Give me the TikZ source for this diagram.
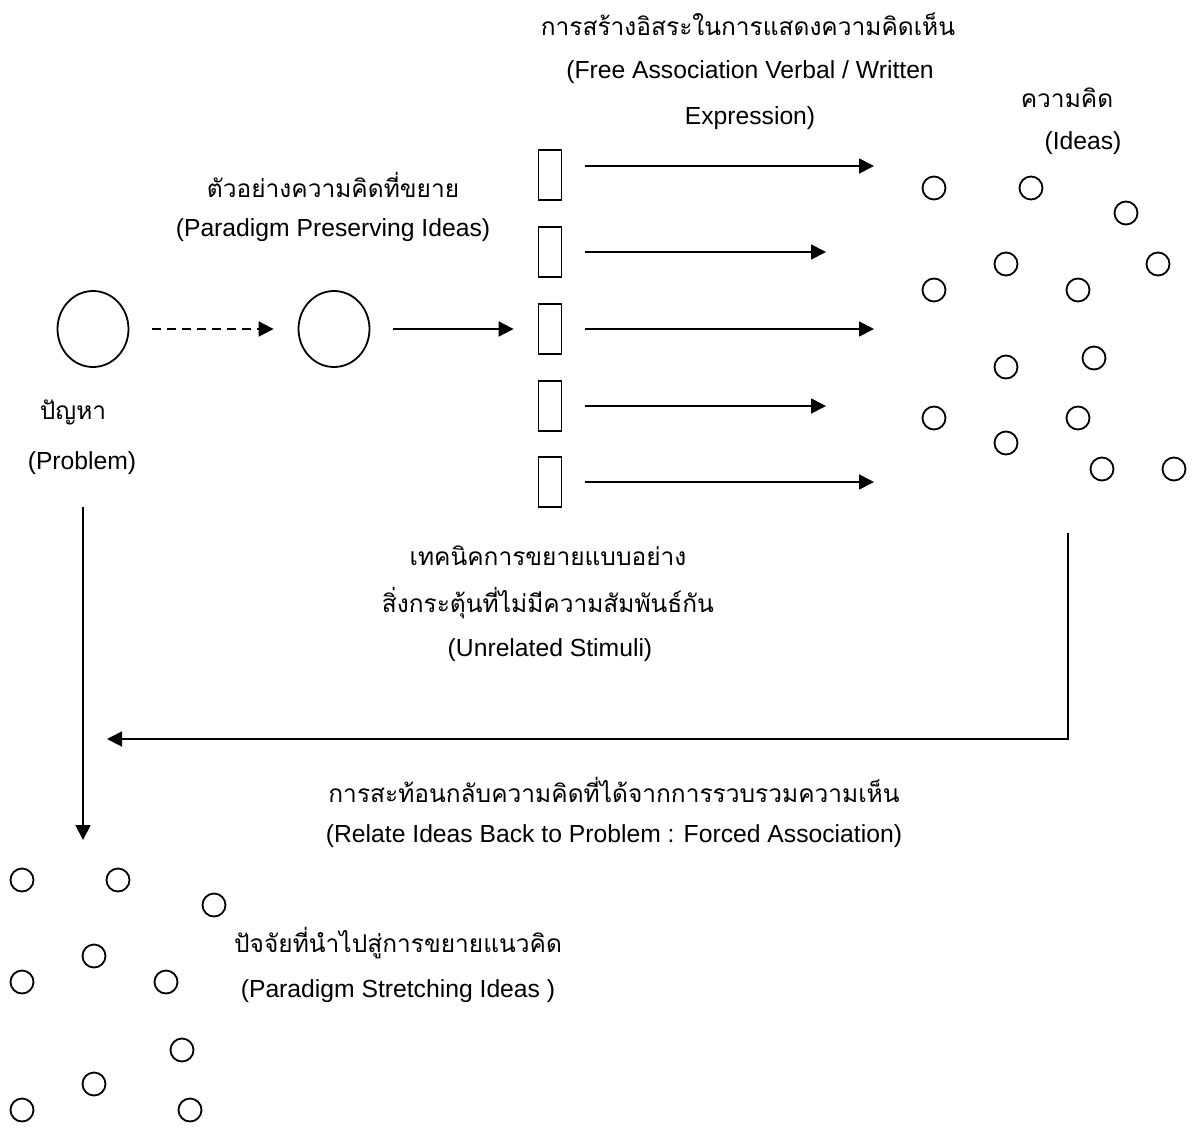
\documentclass[tikz,border=0pt]{standalone}
\usepackage{fontspec}
\setmainfont{Liberation Sans}
\newfontfamily\thaifont[Script=Thai]{Loma}
\usetikzlibrary{arrows.meta,shapes.geometric}
\begin{document}
\begin{tikzpicture}[x=1pt,y=-1pt,
  lat/.style={font=\fontsize{24.7}{29}\selectfont,inner sep=0},
  th/.style={font=\thaifont\fontsize{24.5}{29}\selectfont,inner sep=0},
  big/.style={draw,ellipse,line width=1.8pt,minimum width=71pt,minimum height=76pt,inner sep=0},
  stim/.style={draw,rectangle,line width=1.8pt,minimum width=23pt,minimum height=50pt,inner sep=0},
  idea/.style={draw,circle,line width=1.8pt,minimum size=23pt,inner sep=0},
  link/.style={line width=1.8pt,-{Triangle[length=15pt,width=15pt]}},
  gap/.style={shorten <=23pt,shorten >=24pt},
]
\useasboundingbox (0,0) rectangle (1192,1128);

% problem and paradigm-preserving ideas
\node[big] (prob) at (93,329) {};
\node[big] (pres) at (334,329) {};
\draw[link,gap,dash pattern=on 9pt off 6pt] (prob) -- (pres);

% unrelated stimuli
\node[stim] (s1) at (550,175) {};
\node[stim] (s2) at (550,252) {};
\node[stim] (s3) at (550,329) {};
\node[stim] (s4) at (550,406) {};
\node[stim] (s5) at (550,482) {};
\draw[link,gap] (pres) -- (s3);

\coordinate (e1) at (874,166);
\coordinate (e2) at (826,252);
\coordinate (e3) at (874,329);
\coordinate (e4) at (826,406);
\coordinate (e5) at (874,482);
\draw[link,shorten <=23pt] (s1.east |- e1) -- (e1);
\draw[link,shorten <=23pt] (s2) -- (e2);
\draw[link,shorten <=23pt] (s3) -- (e3);
\draw[link,shorten <=23pt] (s4) -- (e4);
\draw[link,shorten <=23pt] (s5) -- (e5);

% ideas
\foreach \p [count=\i] in {(934,188),(1031,188),(1126,213),(1006,264),(1158,264),
  (934,290),(1078,290),(1094,358),(1006,367),(934,418),(1078,418),(1006,443),
  (1102,469),(1174,469)}
  \node[idea] (i\i) at \p {};

% feedback to the problem
\coordinate (fb0) at (1068,533);
\coordinate (fb1) at (107,739);
\draw[link] (fb0) |- (fb1);
\coordinate (dn0) at (83,507);
\coordinate (dn1) at (83,840);
\draw[link] (dn0) -- (dn1);

% paradigm-stretching ideas
\foreach \p [count=\i] in {(22,880),(118,880),(214,905),(94,956),(22,982),
  (166,982),(182,1050),(94,1084),(22,1110),(190,1110)}
  \node[idea] (o\i) at \p {};

% labels
\node[th]  (t1) at (748,24)  {การสร้างอิสระในการแสดงความคิดเห็น};
\node[lat] (t2) at (750,72)  {(Free Association Verbal / Written};
\node[lat] (t3) at (750,118) {Expression)};
\node[th]  (t4) at (1067,98) {ความคิด};
\node[lat] (t5) at (1083,143) {(Ideas)};
\node[th]  (t6) at (333,185) {ตัวอย่างความคิดที่ขยาย};
\node[lat] (t7) at (333,230) {(Paradigm Preserving Ideas)};
\node[th]  (t8) at (73,412)  {ปัญหา};
\node[lat] (t9) at (82,463)  {(Problem)};
\node[th]  (t10) at (548,556) {เทคนิคการขยายแบบอย่าง};
\node[th]  (t11) at (548,603) {สิ่งกระตุ้นที่ไม่มีความสัมพันธ์กัน};
\node[lat] (t12) at (550,650) {(Unrelated Stimuli)};
\node[th]  (t13) at (614,790) {การสะท้อนกลับความคิดที่ได้จากการรวบรวมความเห็น};
\node[lat] (t14) at (614,836) {(Relate Ideas Back to Problem : Forced Association)};
\node[th]  (t15) at (398,943) {ปัจจัยที่นำไปสู่การขยายแนวคิด};
\node[lat] (t16) at (398,991) {(Paradigm Stretching Ideas )};
\end{tikzpicture}
\end{document}
